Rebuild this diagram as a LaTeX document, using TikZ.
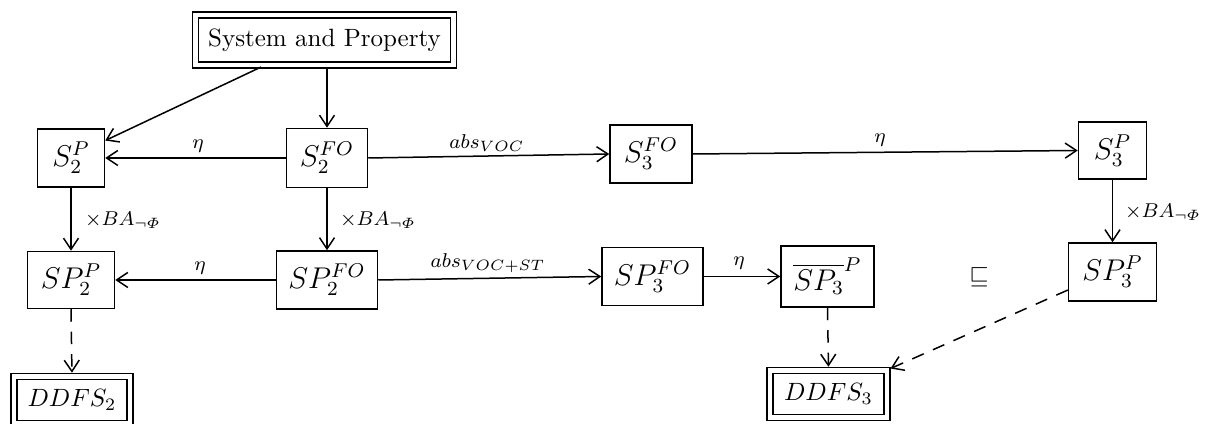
\documentclass[tikz,border=0pt]{standalone}
\usepackage{amsmath}
\usepackage{amssymb}
\usepackage{tikz}
\usetikzlibrary{arrows.meta}

\begin{document}
\begin{tikzpicture}[x=0.4pt,y=-0.4pt,
  blk/.style={rectangle,draw,line width=0.6pt,inner sep=0pt,font=\large},
  dblk/.style={blk,double,double distance=1.8pt,font=\normalsize},
  lbl/.style={font=\footnotesize,inner sep=1pt},
  arr/.style={-{Straight Barb[length=4.5pt,width=6pt]},line width=0.6pt},
  darr/.style={arr,dash pattern=on 5pt off 4pt}]
\useasboundingbox (0,0) rectangle (1207,424);
\node[dblk,minimum width=103.2pt,minimum height=20pt] (sys) at (324.5,40) {System and Property};
\node[blk,minimum width=26.8pt,minimum height=23.2pt] (s2p) at (71,158) {$S_2^P$};
\node[blk,minimum width=32.4pt,minimum height=23.6pt] (s2fo) at (327,158) {$S_2^{FO}$};
\node[blk,minimum width=32.8pt,minimum height=23.2pt] (s3fo) at (651,154) {$S_3^{FO}$};
\node[blk,minimum width=27.2pt,minimum height=22.8pt] (s3p) at (1112.5,150.5) {$S_3^P$};
\node[blk,minimum width=34.8pt,minimum height=22.8pt] (sp2p) at (71,280) {$SP_2^P$};
\node[blk,minimum width=40.4pt,minimum height=23.2pt] (sp2fo) at (327,280) {$SP_2^{FO}$};
\node[blk,minimum width=40.4pt,minimum height=23.2pt] (sp3fo) at (652.5,276.5) {$SP_3^{FO}$};
\node[blk,minimum width=37.2pt,minimum height=24.4pt] (sp3bar) at (827.5,276.5) {$\overline{SP_3}^{P}$};
\node[blk,minimum width=35.2pt,minimum height=23.2pt] (sp3p) at (1112.5,272) {$SP_3^P$};
\node[dblk,minimum width=46.4pt,minimum height=18.8pt] (ddfs2) at (72,400) {$DDFS_2$};
\node[dblk,minimum width=46.8pt,minimum height=18.8pt] (ddfs3) at (828.5,394) {$DDFS_3$};
\node (sqs) at (979,277) {$\sqsubseteq$};

\node[lbl] (eta1) at (198,146) {$\eta$};
\node[lbl] (absv) at (487,143) {$abs_{VOC}$};
\node[lbl] (eta2) at (880,140) {$\eta$};
\node[lbl,anchor=west] (ba1) at (82,220) {$\times BA_{\neg\varPhi}$};
\node[lbl,anchor=west] (ba2) at (337,220) {$\times BA_{\neg\varPhi}$};
\node[lbl,anchor=west] (ba3) at (1122,212) {$\times BA_{\neg\varPhi}$};
\node[lbl] (eta3) at (200,268) {$\eta$};
\node[lbl] (absvst) at (488,263) {$abs_{VOC+ST}$};
\node[lbl] (eta4) at (739,263) {$\eta$};

\draw[arr,shorten <=1.2pt] (sys.203) -- (s2p.27);
\draw[arr,shorten <=1.2pt] (sys.south -| s2fo) -- (s2fo.north);
\draw[arr] (s2fo.west) -- (s2p.east);
\draw[arr] (s2fo.east) -- (s3fo.west);
\draw[arr] (s3fo.east) -- (s3p.west);
\draw[arr] (s2p.south) -- (sp2p.north);
\draw[arr] (s2fo.south) -- (sp2fo.north);
\draw[arr] (s3p.south) -- (sp3p.north);
\draw[arr] (sp2fo.west) -- (sp2p.east);
\draw[arr] (sp2fo.east) -- (sp3fo.west);
\draw[arr] (sp3fo.east) -- (sp3bar.west);
\draw[darr,shorten >=1.2pt] (sp2p.south) -- (ddfs2.north);
\draw[darr,shorten >=1.2pt] (sp3bar.south) -- (ddfs3.north);
\draw[darr,shorten >=1.2pt] (sp3p.202) -- (ddfs3.north east);
\end{tikzpicture}
\end{document}
